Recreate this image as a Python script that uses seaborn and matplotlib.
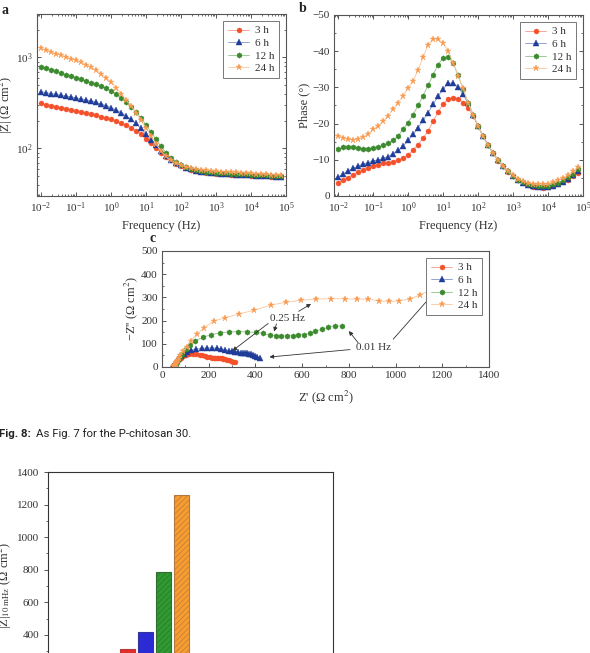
import numpy as np
import pandas as pd
import matplotlib
matplotlib.use("Agg")
import matplotlib.pyplot as plt
import seaborn as sns
from matplotlib.ticker import MultipleLocator, LogLocator, NullFormatter

# ---------------- data ----------------
labels = ["3 h", "6 h", "12 h", "24 h"]
colors = ["#f4502a", "#1f3d98", "#3c8a2e", "#f99a4f"]
line_colors = ["#f79a85", "#8293c9", "#8fc287", "#fbc59c"]
markers = ["o", "^", "h", "*"]
msizes = [3.6, 3.8, 3.9, 5.0]

freq = [0.01, 0.0139, 0.0193, 0.0268, 0.0373, 0.0518, 0.0720, 0.1, 0.139, 0.193,
        0.268, 0.373, 0.518, 0.720, 1.0, 1.39, 1.93, 2.68, 3.73, 5.18,
        7.20, 10.0, 13.9, 19.3, 26.8, 37.3, 51.8, 72.0, 100, 139,
        193, 268, 373, 518, 720, 1000, 1390, 1930, 2680, 3730,
        5180, 7200, 10000, 13900, 19300, 26800, 37300, 51800, 72000]

z_3h = [312, 303, 295, 287, 280, 272, 265, 258, 251, 244,
        238, 231, 224, 216, 208, 199, 190, 180, 169, 157,
        143, 128, 114, 101, 90, 81, 74, 68, 64, 61,
        58, 56.5, 55, 54, 53.3, 52.8, 52.3, 51.9, 51.5, 51.1,
        50.8, 50.5, 50.2, 49.9, 49.6, 49.3, 49.0, 48.7, 48.4]
z_6h = [420, 410, 401, 392, 383, 375, 368, 360, 351, 342,
        332, 321, 309, 296, 281, 265, 248, 229, 209, 188,
        166, 145, 125, 108, 94, 83, 75, 69, 65, 61.5,
        59, 57, 55.5, 54.5, 53.7, 53.1, 52.6, 52.2, 51.8, 51.4,
        51.1, 50.8, 50.5, 50.2, 49.9, 49.6, 49.3, 49.0, 48.7]
z_12h = [791, 760, 730, 702, 675, 648, 623, 599, 575, 551,
         528, 505, 481, 456, 430, 395, 360, 325, 288, 252,
         216, 182, 152, 126, 105, 90, 79, 71, 66, 62.5,
         60, 58, 56.5, 55.5, 54.7, 54.1, 53.6, 53.2, 52.8, 52.4,
         52.0, 51.7, 51.4, 51.1, 50.8, 50.5, 50.2, 49.9, 49.6]
z_24h = [1260, 1200, 1148, 1100, 1055, 1012, 970, 928, 884, 835,
         780, 722, 662, 600, 537, 465, 400, 342, 296, 248,
         205, 168, 137, 112, 94, 82, 74, 69, 65.5, 63,
         61, 59.5, 58.3, 57.4, 56.7, 56.1, 55.6, 55.2, 54.8, 54.4,
         54.0, 53.6, 53.2, 52.8, 52.4, 52.0, 51.6, 51.2, 50.8]

ph_3h = [-3.7, -4.4, -5.1, -5.9, -6.6, -7.2, -7.8, -8.3, -8.7, -9.0,
         -9.2, -9.5, -9.9, -10.5, -11.4, -12.7, -14.2, -16.0, -18.0, -20.6,
         -23.2, -25.4, -26.8, -27.2, -26.8, -25.8, -24.3, -22.0, -19.3, -16.5,
         -14.0, -11.9, -9.8, -8.2, -6.7, -5.4, -4.3, -3.6, -3.0, -2.6,
         -2.4, -2.3, -2.4, -2.7, -3.2, -3.8, -4.5, -5.4, -6.4]
ph_6h = [-5.2, -6.1, -7.0, -7.6, -8.3, -8.8, -9.2, -9.7, -9.9, -10.4,
         -10.9, -11.7, -12.6, -13.8, -15.4, -17.0, -18.9, -20.9, -23.0, -25.3,
         -27.6, -29.5, -31.1, -31.2, -30.1, -28.1, -25.6, -22.5, -19.3, -16.5,
         -14.0, -11.9, -9.9, -8.3, -6.8, -5.5, -4.4, -3.7, -3.1, -2.8,
         -2.6, -2.5, -2.6, -2.9, -3.4, -4.0, -4.8, -5.8, -6.9]
ph_12h = [-12.9, -13.4, -13.5, -13.4, -13.2, -12.9, -12.9, -13.2, -13.5, -14.0,
          -14.6, -15.5, -16.6, -18.5, -20.3, -22.5, -25.0, -27.7, -30.6, -33.5,
          -36.3, -38.2, -38.4, -36.8, -33.3, -29.6, -25.7, -22.5, -19.3, -16.5,
          -14.0, -11.9, -9.9, -8.3, -6.8, -5.6, -4.5, -3.8, -3.3, -3.0,
          -2.8, -2.8, -2.9, -3.2, -3.7, -4.3, -5.2, -6.2, -7.4]
ph_24h = [-16.6, -16.1, -15.7, -15.5, -15.7, -16.2, -17.1, -18.4, -19.3, -20.6,
          -22.2, -23.9, -25.8, -27.7, -29.8, -31.8, -34.8, -38.3, -41.8, -43.3,
          -43.3, -42.3, -40.0, -36.8, -33.2, -29.7, -25.8, -22.5, -19.4, -16.6,
          -14.1, -12.0, -10.0, -8.4, -7.0, -5.8, -4.8, -4.1, -3.6, -3.3,
          -3.2, -3.2, -3.4, -3.8, -4.4, -5.1, -5.9, -6.9, -8.0]

bar_labels = ["3 h", "6 h", "12 h", "24 h"]
bar_values = [312, 415, 787, 1257]
bar_colors = ["#ec2a2a", "#2a2ae0", "#2f9a30", "#f89c30"]
bar_edges = ["#b43a3a", "#33339a", "#2f6e30", "#b07a40"]

Zmag = [z_3h, z_6h, z_12h, z_24h]
Phase = [ph_3h, ph_6h, ph_12h, ph_24h]

frames = []
for lab, zm, ph in zip(labels, Zmag, Phase):
    zm = np.asarray(zm, float)
    ph = np.asarray(ph, float)
    frames.append(pd.DataFrame({
        "time": lab, "freq": freq, "Z": zm, "phase": ph,
        "Zre": zm * np.cos(np.deg2rad(ph)),
        "Zim": -zm * np.sin(np.deg2rad(ph)),
    }))
df = pd.concat(frames, ignore_index=True)

# ---------------- style ----------------
sns.set_theme(style="ticks")
plt.rcParams["font.family"] = ["Liberation Serif", "DejaVu Serif"]
plt.rcParams["mathtext.fontset"] = "stix"
plt.rcParams["axes.edgecolor"] = "#555555"
plt.rcParams["axes.linewidth"] = 0.8
plt.rcParams["xtick.color"] = "#555555"
plt.rcParams["ytick.color"] = "#555555"
plt.rcParams["xtick.labelcolor"] = "#333333"
plt.rcParams["ytick.labelcolor"] = "#333333"
plt.rcParams["text.color"] = "#333333"
plt.rcParams["axes.labelcolor"] = "#333333"
plt.rcParams["hatch.linewidth"] = 0.45

W, H = 590, 653
fig = plt.figure(figsize=(W / 100, H / 100), dpi=100)


def ax_px(l, t, r, b):
    return fig.add_axes([l / W, 1 - b / H, (r - l) / W, (b - t) / H])


def style_ticks(ax, allsides=True):
    ax.tick_params(which="both", direction="in", top=allsides, right=allsides,
                   labelsize=8, pad=3)
    ax.tick_params(which="major", length=3, width=0.7)
    ax.tick_params(which="minor", length=1.6, width=0.6)


def draw_series(ax, xcol, ycol, sort=True):
    for lab, c, lc, m, ms in zip(labels, colors, line_colors, markers, msizes):
        d = df[df["time"] == lab]
        sns.lineplot(x=d[xcol].values, y=d[ycol].values, ax=ax, sort=sort,
                     color=lc, linewidth=0.6, marker=m, markersize=ms,
                     markerfacecolor=c, markeredgecolor=c, markeredgewidth=0.3,
                     label=lab)


def legend(ax, **kw):
    lg = ax.legend(loc="upper right", fontsize=8, frameon=True, fancybox=False,
                   edgecolor="#777777", framealpha=1, handlelength=1.9,
                   handletextpad=0.5, borderpad=0.45, labelspacing=0.25,
                   borderaxespad=0.6, **kw)
    lg.get_frame().set_linewidth(0.7)
    return lg


def ylabel_at(ax, text, right_px, l_px, w_px):
    # right_px: pixel x of the right edge of the (rotated) label
    ax.set_ylabel(text, fontsize=9)
    ax.yaxis.set_label_coords((right_px - l_px) / w_px, 0.5)


# ---------- panel a ----------
axa = ax_px(37, 14, 286, 196)
draw_series(axa, "freq", "Z")
axa.set_xscale("log")
axa.set_yscale("log")
axa.set_xlim(0.0077, 1e5)
axa.set_ylim(30, 3000)
axa.xaxis.set_major_locator(LogLocator(base=10, numticks=20))
axa.xaxis.set_minor_locator(LogLocator(base=10, subs=np.arange(2, 10), numticks=20))
axa.xaxis.set_minor_formatter(NullFormatter())
axa.yaxis.set_minor_formatter(NullFormatter())
style_ticks(axa)
axa.set_xlabel("Frequency (Hz)", fontsize=9, labelpad=4)
ylabel_at(axa, "|Z| (Ω cm$^2$)", 15, 37, 249)
legend(axa)
fig.text(2 / W, 1 - 10 / H, "a", fontsize=10, fontweight="bold", va="center", color="#222222")

# ---------- panel b ----------
axb = ax_px(334, 15, 583, 196)
draw_series(axb, "freq", "phase")
axb.set_xscale("log")
axb.set_xlim(0.0076, 1e5)
axb.set_ylim(0, -50)
axb.yaxis.set_major_locator(MultipleLocator(10))
axb.yaxis.set_minor_locator(MultipleLocator(5))
axb.xaxis.set_major_locator(LogLocator(base=10, numticks=20))
axb.xaxis.set_minor_locator(LogLocator(base=10, subs=np.arange(2, 10), numticks=20))
axb.xaxis.set_minor_formatter(NullFormatter())
style_ticks(axb)
axb.set_xlabel("Frequency (Hz)", fontsize=9, labelpad=4)
ylabel_at(axb, "Phase (°)", 310, 334, 249)
legend(axb)
fig.text(299 / W, 1 - 9 / H, "b", fontsize=10, fontweight="bold", va="center", color="#222222")

# ---------- panel c ----------
axc = ax_px(162, 251, 489, 367)
draw_series(axc, "Zre", "Zim", sort=False)
axc.set_xlim(0, 1400)
axc.set_ylim(0, 500)
axc.xaxis.set_major_locator(MultipleLocator(200))
axc.xaxis.set_minor_locator(MultipleLocator(100))
axc.yaxis.set_major_locator(MultipleLocator(100))
axc.yaxis.set_minor_locator(MultipleLocator(50))
style_ticks(axc, allsides=False)
axc.set_xlabel("Z' (Ω cm$^2$)", fontsize=9, labelpad=6)
ylabel_at(axc, "−Z'' (Ω cm$^2$)", 140, 162, 327)
legend(axc)
fig.text(149 / W, 1 - 239 / H, "c", fontsize=10, fontweight="bold", va="center", color="#222222")

arrow = dict(arrowstyle="-|>", color="#333333", lw=0.6, mutation_scale=6,
             shrinkA=0, shrinkB=0)
axc.text(536, 207, "0.25 Hz", fontsize=8, ha="center", va="center")
axc.annotate("", xy=(638, 272), xytext=(585, 240), arrowprops=arrow)
axc.annotate("", xy=(480, 153), xytext=(490, 186), arrowprops=arrow)
axc.annotate("", xy=(302, 70), xytext=(455, 188), arrowprops=arrow)
axc.text(906, 82, "0.01 Hz", fontsize=8, ha="center", va="center")
axc.annotate("", xy=(460, 43), xytext=(805, 75), arrowprops=arrow)
axc.annotate("", xy=(800, 155), xytext=(840, 104), arrowprops=arrow)
axc.annotate("", xy=(1174, 330), xytext=(990, 120), arrowprops=arrow)

# ---------- caption ----------
fig.text(-1 / W, 1 - 434 / H, "Fig. 8:", fontsize=8.2, fontweight="bold",
         family=["Roboto", "DejaVu Sans"], va="center", color="#222222")
fig.text(36 / W, 1 - 434 / H, "As Fig. 7 for the P-chitosan 30.", fontsize=8.2,
         family=["Roboto", "DejaVu Sans"], va="center", color="#222222")

# ---------- bar chart ----------
axd = ax_px(48, 472, 333, 700)
bdf = pd.DataFrame({"time": bar_labels, "value": bar_values})
sns.barplot(data=bdf, x="time", y="value", hue="time", palette=bar_colors,
            width=0.83, ax=axd, legend=False, saturation=1)
for p, ec in zip(axd.patches, bar_edges):
    p.set_edgecolor(ec)
    p.set_linewidth(0.8)
    p.set_hatch("//////")
axd.set_xlim(-4.44, 11.39)
axd.set_ylim(0, 1400)
axd.yaxis.set_major_locator(MultipleLocator(200))
axd.yaxis.set_minor_locator(MultipleLocator(100))
axd.tick_params(which="both", direction="out", labelsize=8, left=True, bottom=False,
                labelbottom=False)
axd.tick_params(which="major", length=3, width=0.7)
axd.tick_params(which="minor", length=1.6, width=0.6)
axd.set_xlabel("")
ylabel_at(axd, "|Z|$_{10\\ \\mathrm{mHz}}$ (Ω cm$^2$)", 14, 48, 285)
for s in axd.spines.values():
    s.set_color("#333333")

fig.savefig("out.png", dpi=100)
